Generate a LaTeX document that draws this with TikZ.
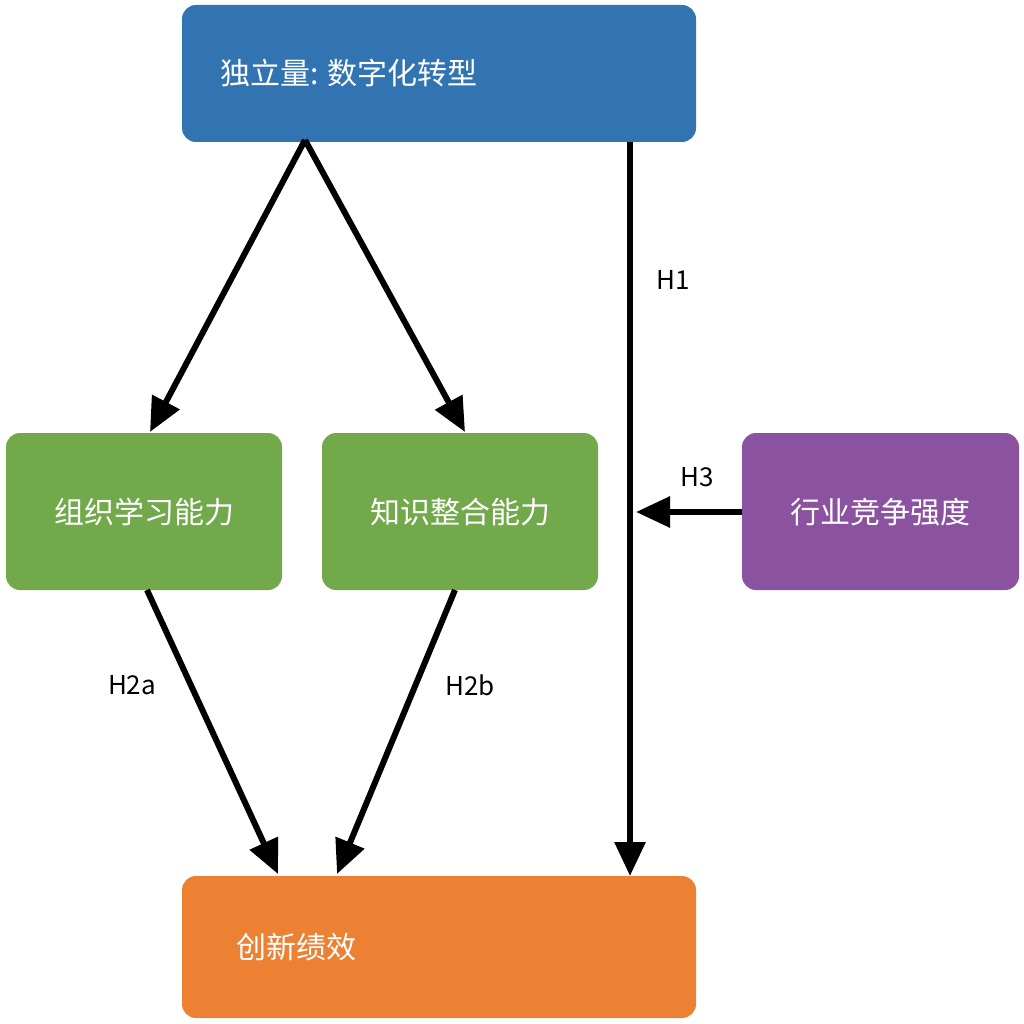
\documentclass[tikz,border=0pt]{standalone}
\usepackage{fontspec}
\setmainfont{Noto Sans CJK SC}
\usetikzlibrary{arrows.meta}
\definecolor{cblue}{HTML}{3274B2}
\definecolor{cgreen}{HTML}{71A94B}
\definecolor{cpurple}{HTML}{8B52A0}
\definecolor{corange}{HTML}{EC8033}
\begin{document}
\begin{tikzpicture}[x=1pt,y=-1pt,
  box/.style={draw=none,rounded corners=14pt,text=white,font=\fontsize{30}{36}\selectfont,inner sep=0pt},
  arr/.style={line width=6pt,-{Triangle[length=34pt,width=30pt]}},
  lab/.style={font=\fontsize{26}{30}\selectfont}]
\useasboundingbox (0,0) rectangle (1024,1024);
\fill[cblue,rounded corners=14pt] (182,5) rectangle (696,142);
\node[box,anchor=west] (top) at (220,73) {独立量: 数字化转型};
\fill[cgreen,rounded corners=14pt] (6,433) rectangle (282,590);
\node[box] (g1) at (144,512) {组织学习能力};
\fill[cgreen,rounded corners=14pt] (322,433) rectangle (598,590);
\node[box] (g2) at (460,512) {知识整合能力};
\fill[cpurple,rounded corners=14pt] (742,433) rectangle (1019,590);
\node[box] (p) at (880,512) {行业竞争强度};
\fill[corange,rounded corners=14pt] (182,876) rectangle (696,1018);
\node[box,anchor=west] (o) at (236,947) {创新绩效};
\coordinate (t1) at (305,140);
\coordinate (g1t) at (150,432);
\coordinate (g2t) at (465,432);
\coordinate (h1s) at (630,142);
\coordinate (h1e) at (630,876);
\coordinate (pw) at (742,512);
\coordinate (h3e) at (636,512);
\coordinate (g1b) at (147,590);
\coordinate (g2b) at (455,590);
\coordinate (o1) at (278,874);
\coordinate (o2) at (337,874);
\draw[arr] (t1) -- (g1t);
\draw[arr] (t1) -- (g2t);
\draw[arr] (h1s) -- (h1e);
\draw[arr] (pw) -- (h3e);
\draw[arr] (g1b) -- (o1);
\draw[arr] (g2b) -- (o2);
\node[lab] (l1) at (673,280) {H1};
\node[lab] (l3) at (697,477) {H3};
\node[lab] (l2a) at (132,685) {H2a};
\node[lab] (l2b) at (470,685) {H2b};
\end{tikzpicture}
\end{document}
